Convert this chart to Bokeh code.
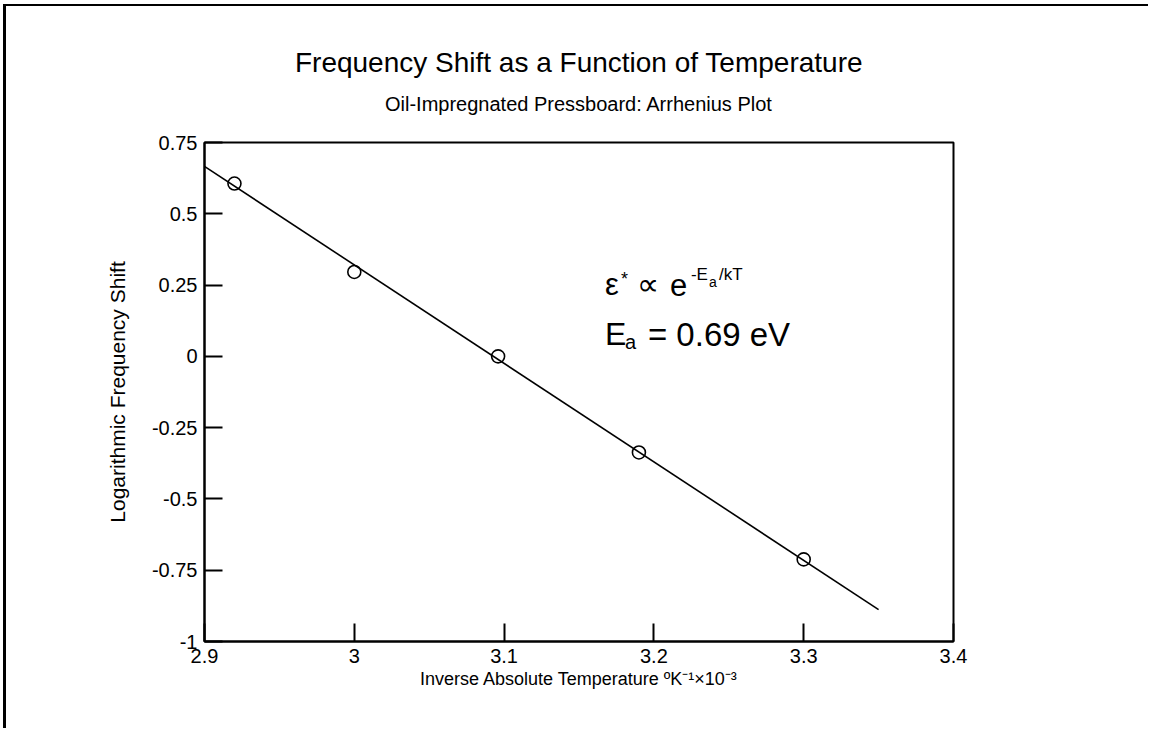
from bokeh.plotting import figure
from bokeh.models import Range1d, FixedTicker, Label, Title, LinearAxis
from bokeh.embed import file_html
from bokeh.resources import INLINE

# ---- data ----
inv_temp = [2.92, 3.0, 3.096, 3.19, 3.30]
log_shift = [0.606, 0.296, 0.0, -0.337, -0.712]
fit_x = [2.9, 3.35]
fit_y = [0.666, -0.888]

x_ticks = [2.9, 3.0, 3.1, 3.2, 3.3, 3.4]
x_tick_labels = ["2.9", "3", "3.1", "3.2", "3.3", "3.4"]
y_ticks = [0.75, 0.5, 0.25, 0.0, -0.25, -0.5, -0.75, -1.0]
y_tick_labels = ["0.75", "0.5", "0.25", "0", "-0.25", "-0.5", "-0.75", "-1"]

title_text = "Frequency Shift as a Function of Temperature"
subtitle_text = "Oil-Impregnated Pressboard: Arrhenius Plot"
x_label = "Inverse Absolute Temperature \u00baK\u207b\u00b9\u00d710\u207b\u00b3"
y_label = "Logarithmic Frequency Shift"

FONT = "Liberation Sans"

W, H = 1145, 724
p = figure(width=W, height=H, x_range=Range1d(2.9, 3.4), y_range=Range1d(-1.0, 0.75),
           output_backend="svg", toolbar_location=None, title=None,
           min_border_left=198, min_border_right=198, min_border_top=136, min_border_bottom=89)
p.styles = {"margin-left": "3px", "margin-top": "4px",
            "border-left": "3px solid black", "border-top": "2px solid black"}

p.grid.visible = False
p.outline_line_color = "black"
p.outline_line_width = 2
p.outline_line_alpha = 1.0

for ax in (p.xaxis[0], p.yaxis[0]):
    ax.axis_line_width = 2
    ax.major_tick_line_width = 2
    ax.major_tick_in = 18
    ax.major_tick_out = 0
    ax.minor_tick_in = 0
    ax.minor_tick_out = 0
    ax.major_label_text_font = FONT
    ax.major_label_text_font_size = "20px"
    ax.major_label_text_color = "black"
    ax.axis_label_text_font = FONT
    ax.axis_label_text_font_style = "normal"
    ax.axis_label_text_color = "black"

p.xaxis.axis_label_text_font_size = "18px"
p.yaxis.axis_label_text_font_size = "21px"
p.xaxis.ticker = FixedTicker(ticks=x_ticks)
p.xaxis.major_label_overrides = dict(zip(x_ticks, x_tick_labels))
p.yaxis.ticker = FixedTicker(ticks=y_ticks)
p.yaxis.major_label_overrides = dict(zip(y_ticks, y_tick_labels))
p.xaxis.axis_label = x_label
p.yaxis.axis_label = y_label
p.xaxis.major_label_standoff = 7
p.yaxis.major_label_standoff = 7
p.xaxis.axis_label_standoff = 3
p.yaxis.axis_label_standoff = 20

# subtitle: carried by a bare axis above the frame (no line, ticks or labels)
sub_axis = LinearAxis(ticker=FixedTicker(ticks=[]), axis_label=subtitle_text,
                      axis_line_alpha=0, major_tick_in=0, major_tick_out=0,
                      minor_tick_in=0, minor_tick_out=0, major_label_text_font_size="0px",
                      axis_label_text_font=FONT, axis_label_text_font_size="20px",
                      axis_label_text_font_style="normal", axis_label_text_color="black",
                      axis_label_standoff=28)
p.add_layout(sub_axis, "above")

p.add_layout(Title(text=title_text, align="center", text_font=FONT, text_font_size="28px",
                   text_font_style="normal", text_color="black", standoff=24), "above")

p.line(fit_x, fit_y, line_color="black", line_width=1.6)
p.scatter(inv_temp, log_shift, marker="circle", size=13, fill_color=None,
          line_color="black", line_width=1.6)

# ---- equation annotations ----
ax0, ay1, ay2 = 3.1673, 0.252, 0.077
pieces = [
    ("\u03b5", ax0, ay1, 0, 0, "31px"),
    ("*", ax0, ay1, 16, 6, "18px"),
    ("\u221d", ax0, ay1, 32, 0, "31px"),
    ("e", ax0, ay1, 65, 0, "31px"),
    ("-E", ax0, ay1, 86, 10, "17px"),
    ("a", ax0, ay1, 104, 3, "14px"),
    ("/kT", ax0, ay1, 114, 10, "17px"),
    ("E", ax0, ay2, 0, 0, "32px"),
    ("a", ax0, ay2, 20, -8, "20px"),
    ("= 0.69 eV", ax0, ay2, 43, 0, "33px"),
]
for txt, x, y, xo, yo, fs in pieces:
    p.add_layout(Label(x=x, y=y, x_offset=xo, y_offset=yo, text=txt, text_font=FONT,
                       text_font_size=fs, text_baseline="alphabetic", text_align="left",
                       text_color="black"))

open("out.html", "w").write(file_html(p, INLINE))
